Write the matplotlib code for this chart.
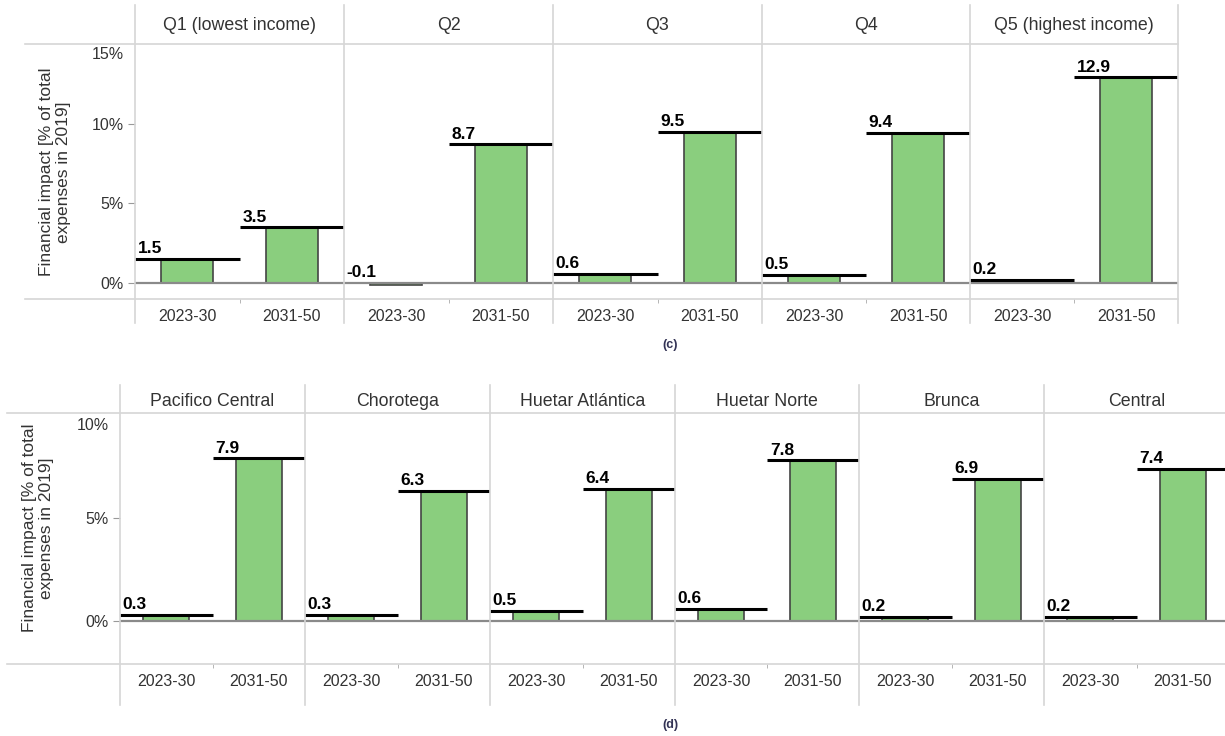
import matplotlib
matplotlib.use("Agg")
import matplotlib.pyplot as plt
from matplotlib.lines import Line2D

plt.rcParams["font.family"] = ["Liberation Sans", "DejaVu Sans"]

periods = ["2023-30", "2031-50"]

quintiles = ["Q1 (lowest income)", "Q2", "Q3", "Q4", "Q5 (highest income)"]
q_2023_30 = [1.5, -0.1, 0.6, 0.5, 0.2]
q_2031_50 = [3.5, 8.7, 9.5, 9.4, 12.9]

regions = ["Pacifico Central", "Chorotega", "Huetar Atlántica", "Huetar Norte", "Brunca", "Central"]
r_2023_30 = [0.3, 0.3, 0.5, 0.6, 0.2, 0.2]
r_2031_50 = [7.9, 6.3, 6.4, 7.8, 6.9, 7.4]

W, H = 1225, 736
BAR = "#8ACE7E"
GRID = "#d6d6d6"
TXT = "#333333"

fig = plt.figure(figsize=(W / 100, H / 100), dpi=100)


def fx(x):
    return x / W


def fy(y):
    return 1 - y / H


def fig_line(x0, y0, x1, y1, color=GRID, lw=1.2):
    fig.add_artist(Line2D([fx(x0), fx(x1)], [fy(y0), fy(y1)], transform=fig.transFigure,
                          color=color, lw=lw))


def draw_block(names, first, second, edges, top, bottom, ylim, ticks, top_label,
               head_y, line_x0, vtop, vbottom, ylab_xy, tag, tag_y, right_border):
    for i, name in enumerate(names):
        x0, x1 = edges[i], edges[i + 1]
        ax = fig.add_axes([fx(x0), fy(bottom), (x1 - x0) / W, (bottom - top) / H])
        vals = [first[i], second[i]]
        ax.bar([0.5, 1.5], vals, width=0.5, color=BAR, edgecolor="#444444", linewidth=1.2, zorder=2)
        for j, v in enumerate(vals):
            if v > 0:
                ax.hlines(v, j, j + 1, color="black", lw=2.2, zorder=4)
            ax.annotate(f"{v:.1f}", xy=(j, max(v, 0)), xytext=(2, 2), textcoords="offset points",
                        ha="left", va="bottom", fontsize=12.5, fontweight="bold", color="black",
                        zorder=5)
        ax.axhline(0, color="#8a8a8a", lw=1.6, zorder=3)
        ax.set_xlim(0, 2)
        ax.set_ylim(*ylim)
        for s in ax.spines.values():
            s.set_visible(False)
        ax.set_xticks([0.5, 1.5])
        ax.set_xticklabels(periods, fontsize=11.5, color=TXT)
        ax.set_xticks([1], minor=True)
        ax.tick_params(axis="x", which="major", length=0, pad=7)
        ax.tick_params(axis="x", which="minor", length=3, color="#aaaaaa", direction="out")
        if i == 0:
            ax.set_yticks(ticks)
            ax.set_yticklabels([f"{t:.0f}%" for t in ticks], fontsize=11.5, color=TXT)
            ax.tick_params(axis="y", length=5, color="#999999", pad=3)
            ax.annotate(f"{top_label:.0f}%", xy=(0, top_label), xycoords=("axes fraction", "data"),
                        xytext=(-8, -2), textcoords="offset points", ha="right", va="top",
                        fontsize=11.5, color=TXT, annotation_clip=False)
        else:
            ax.set_yticks([])
        fig.text(fx((x0 + x1) / 2), fy(head_y), name, ha="center", va="center",
                 fontsize=12.8, color=TXT)
    # frame lines
    fig_line(line_x0, top, edges[-1], top)
    fig_line(line_x0, bottom, edges[-1], bottom)
    last = len(edges) if right_border else len(edges) - 1
    for x in edges[:last]:
        fig_line(x, vtop, x, vbottom)
    fig.text(fx(ylab_xy[0]), fy(ylab_xy[1]), "Financial impact [% of total\nexpenses in 2019]",
             rotation=90, ha="center", va="center", fontsize=12.5, color=TXT, linespacing=1.1)
    fig.text(fx(670), fy(tag_y), tag, ha="center", va="center", fontsize=9,
             fontweight="bold", color="#333355")


draw_block(quintiles, q_2023_30, q_2031_50,
           edges=[135, 344, 553, 762, 970, 1178], top=44, bottom=299,
           ylim=(-1.0, 15.0), ticks=[0, 5, 10], top_label=15, head_y=25,
           line_x0=25, vtop=5, vbottom=323, ylab_xy=(55, 172), tag="(c)", tag_y=345,
           right_border=True)

draw_block(regions, r_2023_30, r_2031_50,
           edges=[120, 305, 490, 675, 859, 1044, 1229], top=413, bottom=664,
           ylim=(-2.09, 10.1), ticks=[0, 5], top_label=10, head_y=401,
           line_x0=7, vtop=385, vbottom=705, ylab_xy=(38, 528), tag="(d)", tag_y=725,
           right_border=False)

fig.savefig("out.png", dpi=100)
